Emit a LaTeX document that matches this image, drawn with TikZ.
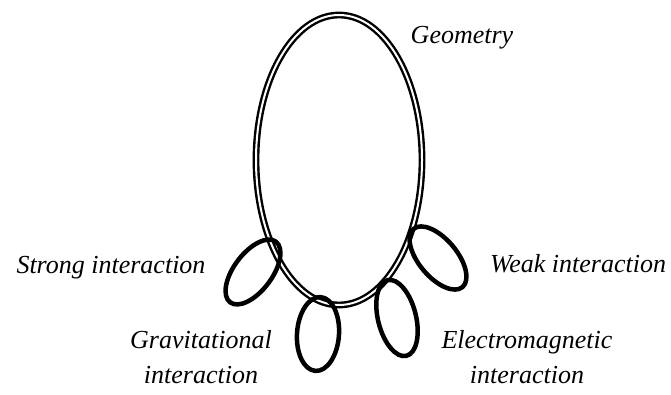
\documentclass[tikz,border=0pt]{standalone}
\usepackage{fontspec}
\setmainfont{Liberation Serif}
\begin{document}
\begin{tikzpicture}[x=1pt, y=1pt,
  every node/.style={font=\fontsize{26}{35}\selectfont\itshape, inner sep=0pt},
  orbit/.style={double, double distance=2pt, line width=2.4pt},
  ring/.style={line width=4.5pt}]
  \useasboundingbox (0,0) rectangle (671,394);
  % 1. Geometry: the large double ellipse
  \draw[orbit] (339,234) ellipse [x radius=83, y radius=145];

  % 2. the four interaction rings hanging on it
  \draw[ring, rotate around={53:(253,122)}] (253,122) ellipse [x radius=38, y radius=19];
  \draw[ring, rotate around={-4:(318,60)}] (318,60) ellipse [x radius=21, y radius=37];
  \draw[ring, rotate around={14:(397,76)}] (397,76) ellipse [x radius=19, y radius=39];
  \draw[ring, rotate around={-50:(438,136)}] (438,136) ellipse [x radius=38, y radius=19];

  % 3. labels
  \node[anchor=base] (geometry) at (462,350) {Geometry};
  \node[anchor=base] (strong) at (111,121) {Strong interaction};
  \node[anchor=base] (weak) at (578,122) {Weak interaction};
  \node[anchor=base, align=center] (gravity) at (201,11) {Gravitational\\interaction};
  \node[anchor=base, align=center] (em) at (527,11) {Electromagnetic\\interaction};
\end{tikzpicture}
\end{document}
